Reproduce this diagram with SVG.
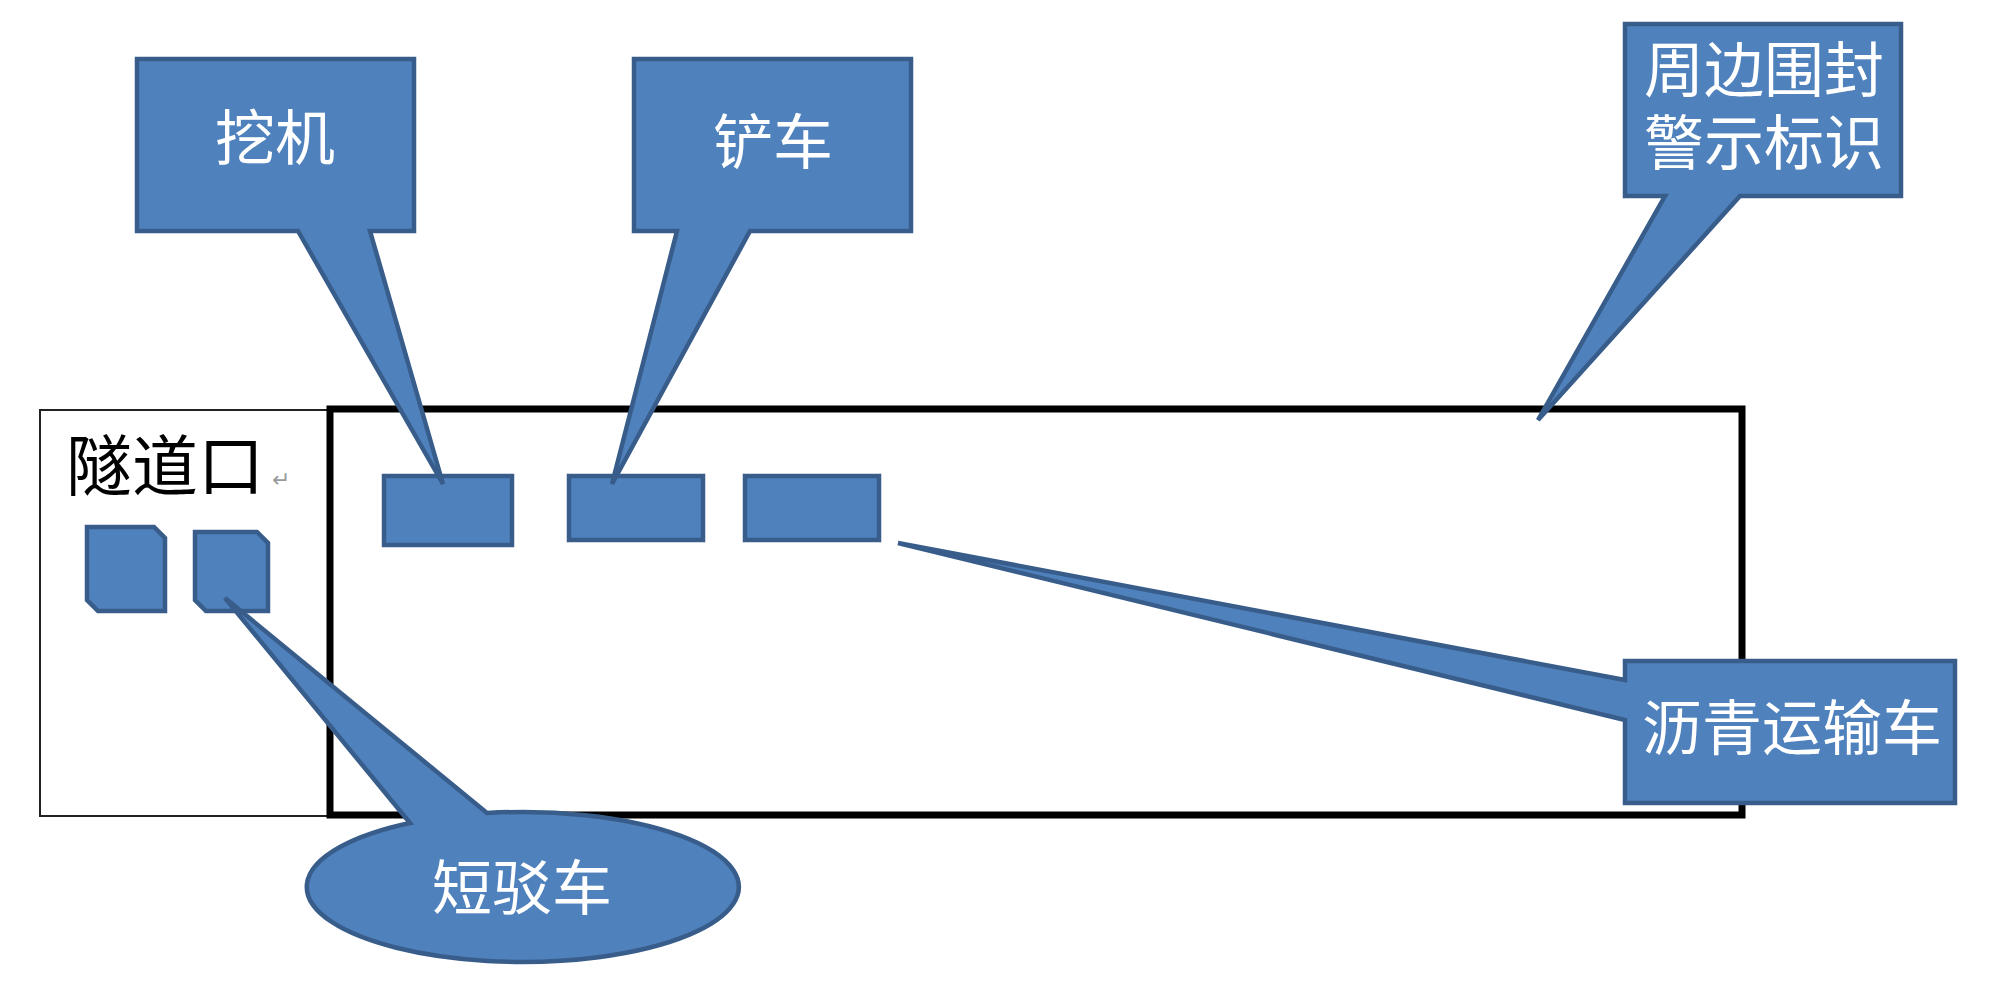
<svg xmlns="http://www.w3.org/2000/svg" width="1999" height="1000" viewBox="0 0 1999 1000">
  <style>
    .shape { fill: #4F81BD; stroke: #385D8A; stroke-width: 4.5; stroke-linejoin: miter; }
    .lbl { fill: #FFFFFF; font-family: "Liberation Serif", "Noto Sans CJK SC", serif; font-size: 60px; text-anchor: middle; dominant-baseline: central; }
    .dark { fill: #000000; font-family: "Liberation Serif", "Noto Sans CJK SC", serif; font-size: 66px; dominant-baseline: central; }
  </style>
  <rect width="1999" height="1000" fill="#FFFFFF"/>

  <g id="tunnel-entrance">
    <rect x="40" y="410" width="290" height="406" fill="none" stroke="#222222" stroke-width="2"/>
    <text class="dark" x="66" y="467">隧道口</text>
    <text x="272" y="487" font-family="Liberation Sans, sans-serif" font-size="22" fill="#999999">↵</text>
  </g>

  <g id="work-area">
    <rect x="330" y="409" width="1412" height="406" fill="none" stroke="#000000" stroke-width="7"/>
  </g>

  <g id="short-truck-1">
    <path class="shape" d="M87,527 H154 L165,538 V611 H98 L87,600 Z"/>
  </g>
  <g id="short-truck-2">
    <path class="shape" d="M195,532 H257 L268,543 V611 H206 L195,600 Z"/>
  </g>

  <g id="excavator">
    <rect class="shape" x="384" y="476" width="128" height="69"/>
  </g>
  <g id="loader">
    <rect class="shape" x="569" y="476" width="134" height="64"/>
  </g>
  <g id="asphalt-truck">
    <rect class="shape" x="745" y="476" width="134" height="64"/>
  </g>

  <g id="connectors">
    <g id="callout-excavator">
      <path class="shape" d="M137,59 H414 V231 H370 L443,484 L298,231 H137 Z"/>
      <text class="lbl" x="275" y="140">挖机</text>
    </g>
    <g id="callout-loader">
      <path class="shape" d="M634,59 H911 V231 H750 L612,484 L677,231 H634 Z"/>
      <text class="lbl" x="773" y="144">铲车</text>
    </g>
    <g id="callout-fence">
      <path class="shape" d="M1625,24 H1901 V196 H1740 L1538,420 L1665,196 H1625 Z"/>
      <text class="lbl" x="1764" y="72">周边围封</text>
      <text class="lbl" x="1764" y="145">警示标识</text>
    </g>
    <g id="callout-asphalt">
      <path class="shape" d="M1625,661 H1955 V803 H1625 V720 L898,543 L1625,680 Z"/>
      <text class="lbl" x="1792" y="730">沥青运输车</text>
    </g>
    <g id="callout-shuttle">
      <path class="shape" d="M410,823 L225,598 L487,813 A216,75 0 1 1 410,823 Z"/>
      <text class="lbl" x="522" y="890">短驳车</text>
    </g>
  </g>
</svg>
